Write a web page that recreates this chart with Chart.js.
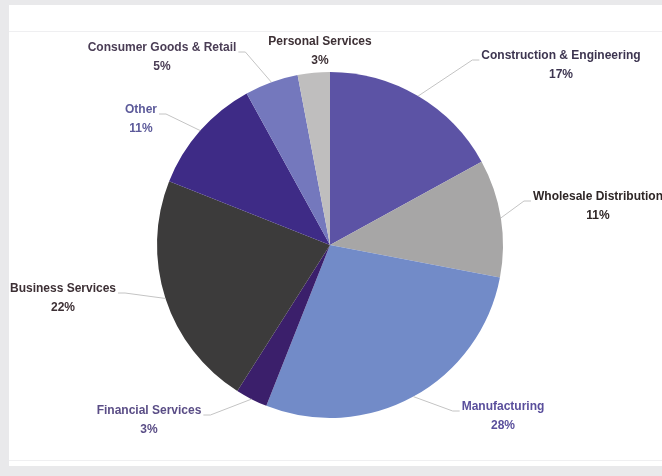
<!DOCTYPE html>
<html>
<head>
<meta charset="utf-8">
<script src="https://cdn.jsdelivr.net/npm/chart.js@4.4.0/dist/chart.umd.min.js"></script>
<style>
  html, body { margin: 0; padding: 0; background: #e9e9eb; }
  #wrap { position: relative; width: 662px; height: 476px; overflow: hidden; }
  #panel {
    position: absolute; left: 9px; top: 5px; width: 660px; height: 461px;
    background: #fff;
  }
  #panel .rule { position: absolute; left: 0; right: 0; height: 1px; background: #efeff1; }
  canvas { position: absolute; left: 0; top: 0; }
</style>
</head>
<body>
<div id="wrap">
  <div id="panel">
    <div class="rule" style="top:26px"></div>
    <div class="rule" style="top:455px"></div>
  </div>
  <canvas id="myChart1" width="662" height="476"></canvas>
</div>
<script>
// sectors, clockwise from 12 o'clock
var sectors = ['Construction & Engineering', 'Wholesale Distribution', 'Manufacturing',
  'Financial Services', 'Business Services', 'Other', 'Consumer Goods & Retail', 'Personal Services'];
var shares = [17, 11, 28, 3, 22, 11, 5, 3];

var sliceColors = ['#5c53a5', '#a7a6a6', '#728bc8', '#3b1f6b', '#3c3b3b', '#3e2b86', '#7478bd', '#bfbebe'];
var textColors = ['#3d3550', '#2e2626', '#5a4f9c', '#5a4d86', '#3d3035', '#5c5a9a', '#4a3d55', '#3d3035'];
// where each label sits, relative to the pie centre
var labelOffsets = [[231, -189], [268, -48], [173, 162], [-181, 166], [-267, 44], [-189, -135], [-168, -197], [-10, -203]];

var calloutLabels = {
  id: 'calloutLabels',
  afterDatasetsDraw: function (chart) {
    var c = chart.ctx;
    var meta = chart.getDatasetMeta(0);
    c.save();
    c.font = 'bold 12px "Liberation Sans", Arial, sans-serif';
    c.textAlign = 'center';
    c.textBaseline = 'middle';
    meta.data.forEach(function (arc, i) {
      var p = arc.getProps(['x', 'y', 'startAngle', 'endAngle', 'outerRadius']);
      var lx = p.x + labelOffsets[i][0];
      var ly = p.y + labelOffsets[i][1];
      var name = chart.data.labels[i];
      var pct = chart.data.datasets[0].data[i] + '%';
      var w = c.measureText(name).width;

      // leader line from the middle of the slice's rim to the label
      var mid = (p.startAngle + p.endAngle) / 2;
      var ex = p.x + Math.cos(mid) * p.outerRadius;
      var ey = p.y + Math.sin(mid) * p.outerRadius;
      var right = lx > p.x;
      var tx = right ? lx - w / 2 - 2 : lx + w / 2 + 2;
      var ty = ly + 4;
      if (Math.hypot(ex - tx, ey - ty) > 30 && Math.abs(lx - ex) > w / 2) {
        c.strokeStyle = '#c4c4c4';
        c.lineWidth = 1;
        c.beginPath();
        c.moveTo(tx, ty);
        c.lineTo(tx + (right ? -7 : 7), ty);
        c.lineTo(ex, ey);
        c.stroke();
      }

      c.fillStyle = textColors[i];
      c.fillText(name, lx, ly);
      c.fillText(pct, lx, ly + 19);
    });
    c.restore();
  }
};

var ctx = document.getElementById('myChart1').getContext('2d');
var chart = new Chart(ctx, {
  type: 'pie',
  data: {
    labels: sectors,
    datasets: [{
      data: shares,
      backgroundColor: sliceColors,
      borderWidth: 0
    }]
  },
  options: {
    responsive: false,
    animation: false,
    layout: { padding: { left: 157, right: 159, top: 72, bottom: 58 } },
    plugins: {
      legend: { display: false },
      tooltip: { enabled: false }
    }
  },
  plugins: [calloutLabels]
});
</script>
</body>
</html>
